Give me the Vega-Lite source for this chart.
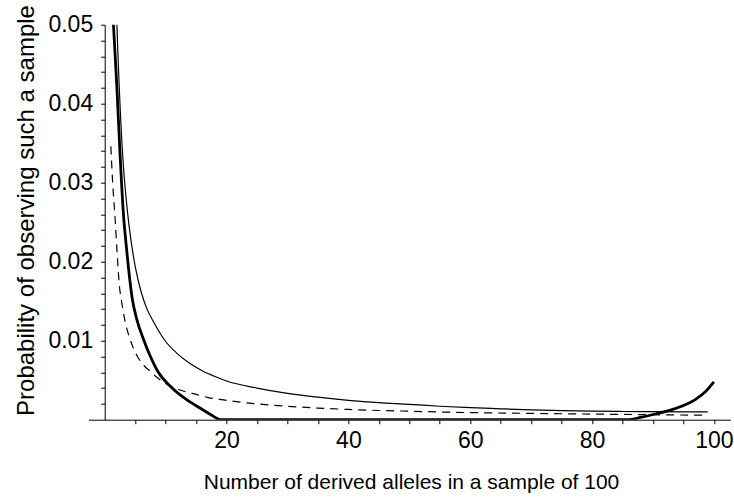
{
  "$schema": "https://vega.github.io/schema/vega-lite/v6.json",
  "width": 642,
  "height": 395,
  "autosize": {"type": "none"},
  "padding": {"left": 88.3, "top": 24.7, "right": 3.7, "bottom": 77.3},
  "background": "white",
  "config": {"view": {"stroke": null}, "font": "Liberation Sans"},
  "data": {"values": [
    {"series": "thin", "x": 1.9, "y": 0.0526},
    {"series": "thin", "x": 2.0, "y": 0.05},
    {"series": "thin", "x": 2.5, "y": 0.04},
    {"series": "thin", "x": 3.0, "y": 0.0328},
    {"series": "thin", "x": 3.5, "y": 0.0281},
    {"series": "thin", "x": 4.0, "y": 0.0245},
    {"series": "thin", "x": 5.0, "y": 0.0194},
    {"series": "thin", "x": 6.0, "y": 0.0161},
    {"series": "thin", "x": 7.0, "y": 0.0139},
    {"series": "thin", "x": 8.0, "y": 0.0124},
    {"series": "thin", "x": 10.0, "y": 0.0099},
    {"series": "thin", "x": 12.0, "y": 0.0083},
    {"series": "thin", "x": 14.0, "y": 0.0071},
    {"series": "thin", "x": 16.0, "y": 0.0062},
    {"series": "thin", "x": 18.0, "y": 0.0055},
    {"series": "thin", "x": 20.0, "y": 0.0049},
    {"series": "thin", "x": 25.0, "y": 0.0040},
    {"series": "thin", "x": 30.0, "y": 0.00333},
    {"series": "thin", "x": 35.0, "y": 0.00285},
    {"series": "thin", "x": 40.0, "y": 0.00245},
    {"series": "thin", "x": 45.0, "y": 0.00215},
    {"series": "thin", "x": 50.0, "y": 0.00195},
    {"series": "thin", "x": 55.0, "y": 0.0017},
    {"series": "thin", "x": 60.0, "y": 0.00152},
    {"series": "thin", "x": 65.0, "y": 0.00138},
    {"series": "thin", "x": 70.0, "y": 0.00125},
    {"series": "thin", "x": 75.0, "y": 0.00115},
    {"series": "thin", "x": 80.0, "y": 0.00108},
    {"series": "thin", "x": 85.0, "y": 0.00104},
    {"series": "thin", "x": 90.0, "y": 0.00101},
    {"series": "thin", "x": 95.0, "y": 0.001},
    {"series": "thin", "x": 99.0, "y": 0.001},
    {"series": "dashed", "x": 1.0, "y": 0.0346},
    {"series": "dashed", "x": 1.3, "y": 0.0300},
    {"series": "dashed", "x": 1.7, "y": 0.0255},
    {"series": "dashed", "x": 2.0, "y": 0.0215},
    {"series": "dashed", "x": 2.4, "y": 0.0170},
    {"series": "dashed", "x": 2.8, "y": 0.0148},
    {"series": "dashed", "x": 3.3, "y": 0.0126},
    {"series": "dashed", "x": 4.2, "y": 0.0101},
    {"series": "dashed", "x": 5.3, "y": 0.0081},
    {"series": "dashed", "x": 6.5, "y": 0.0068},
    {"series": "dashed", "x": 7.5, "y": 0.0061},
    {"series": "dashed", "x": 8.5, "y": 0.0054},
    {"series": "dashed", "x": 10.0, "y": 0.0046},
    {"series": "dashed", "x": 11.0, "y": 0.0042},
    {"series": "dashed", "x": 13.0, "y": 0.0036},
    {"series": "dashed", "x": 15.0, "y": 0.0032},
    {"series": "dashed", "x": 17.0, "y": 0.0028},
    {"series": "dashed", "x": 19.5, "y": 0.0025},
    {"series": "dashed", "x": 25.0, "y": 0.0020},
    {"series": "dashed", "x": 30.0, "y": 0.0017},
    {"series": "dashed", "x": 35.0, "y": 0.00147},
    {"series": "dashed", "x": 40.0, "y": 0.0013},
    {"series": "dashed", "x": 50.0, "y": 0.00107},
    {"series": "dashed", "x": 60.0, "y": 0.0009},
    {"series": "dashed", "x": 70.0, "y": 0.0008},
    {"series": "dashed", "x": 80.0, "y": 0.00071},
    {"series": "dashed", "x": 90.0, "y": 0.00063},
    {"series": "dashed", "x": 98.3, "y": 0.00057},
    {"series": "thick", "x": 1.4, "y": 0.0504},
    {"series": "thick", "x": 2.0, "y": 0.042},
    {"series": "thick", "x": 2.5, "y": 0.0338},
    {"series": "thick", "x": 3.05, "y": 0.0262},
    {"series": "thick", "x": 3.6, "y": 0.0215},
    {"series": "thick", "x": 4.1, "y": 0.0178},
    {"series": "thick", "x": 4.5, "y": 0.0154},
    {"series": "thick", "x": 5.3, "y": 0.0126},
    {"series": "thick", "x": 6.4, "y": 0.0101},
    {"series": "thick", "x": 7.5, "y": 0.0080},
    {"series": "thick", "x": 8.8, "y": 0.0060},
    {"series": "thick", "x": 10.8, "y": 0.0042},
    {"series": "thick", "x": 13.5, "y": 0.0025},
    {"series": "thick", "x": 15.7, "y": 0.00145},
    {"series": "thick", "x": 17.5, "y": 0.0006},
    {"series": "thick", "x": 18.6, "y": 0.0001},
    {"series": "thick", "x": 19.0, "y": 0.0},
    {"series": "thick", "x": 86.0, "y": 0.0},
    {"series": "thick", "x": 88.0, "y": 0.0003},
    {"series": "thick", "x": 90.4, "y": 0.00072},
    {"series": "thick", "x": 92.6, "y": 0.00114},
    {"series": "thick", "x": 94.8, "y": 0.00173},
    {"series": "thick", "x": 97.0, "y": 0.00258},
    {"series": "thick", "x": 98.6, "y": 0.00354},
    {"series": "thick", "x": 100.0, "y": 0.0048}
  ]},
  "encoding": {
    "x": {
      "field": "x", "type": "quantitative",
      "scale": {"domain": [-2.7, 102.7], "nice": false, "zero": false},
      "axis": {
        "values": [5, 10, 15, 20, 25, 30, 35, 40, 45, 50, 55, 60, 65, 70, 75, 80, 85, 90, 95, 100],
        "labelExpr": "datum.value % 20 === 0 ? datum.label : ''",
        "grid": false, "tickSize": 4, "tickColor": "black", "tickWidth": 1,
        "domainColor": "black", "domainWidth": 1,
        "labelFont": "Liberation Sans", "labelFontSize": 23, "labelColor": "black",
        "labelBaseline": "alphabetic", "labelPadding": 23.3, "labelFlush": false, "labelOverlap": false,
        "title": "Number of derived alleles in a sample of 100",
        "titleFont": "Liberation Sans", "titleFontSize": 21, "titleFontWeight": "normal", "titleColor": "black",
        "titleX": 322.7, "titleY": 68.6, "titleBaseline": "alphabetic", "titleAlign": "center"
      }
    },
    "y": {
      "field": "y", "type": "quantitative",
      "scale": {"domain": [0, 0.05], "nice": false, "zero": false},
      "axis": {
        "values": [0.002, 0.004, 0.006, 0.008, 0.01, 0.012, 0.014, 0.016, 0.018, 0.02, 0.022, 0.024, 0.026, 0.028, 0.03, 0.032, 0.034, 0.036, 0.038, 0.04, 0.042, 0.044, 0.046, 0.048, 0.05],
        "labelExpr": "round(datum.value * 1000) % 10 === 0 ? format(datum.value, '.2f') : ''",
        "offset": -16.4,
        "grid": false, "tickSize": 4, "tickColor": "black", "tickWidth": 1,
        "domainColor": "black", "domainWidth": 1,
        "labelFont": "Liberation Sans", "labelFontSize": 23, "labelColor": "black",
        "labelBaseline": "middle", "labelPadding": 8, "labelFlush": false, "labelOverlap": false,
        "title": "Probability of observing such a sample",
        "titleFont": "Liberation Sans", "titleFontSize": 24, "titleFontWeight": "normal", "titleColor": "black",
        "titleAngle": -90, "titleX": -71.7, "titleY": 185.3, "titleBaseline": "alphabetic", "titleAlign": "center"
      }
    }
  },
  "layer": [
    {
      "transform": [{"filter": "datum.series === 'thin'"}],
      "mark": {"type": "line", "stroke": "black", "strokeWidth": 1.2, "interpolate": "monotone", "clip": true}
    },
    {
      "transform": [{"filter": "datum.series === 'dashed'"}],
      "mark": {"type": "line", "stroke": "black", "strokeWidth": 1.2, "strokeDash": [8, 6], "interpolate": "monotone", "clip": true}
    },
    {
      "transform": [{"filter": "datum.series === 'thick'"}],
      "mark": {"type": "line", "stroke": "black", "strokeWidth": 2.8, "interpolate": "monotone", "clip": true}
    }
  ]
}
